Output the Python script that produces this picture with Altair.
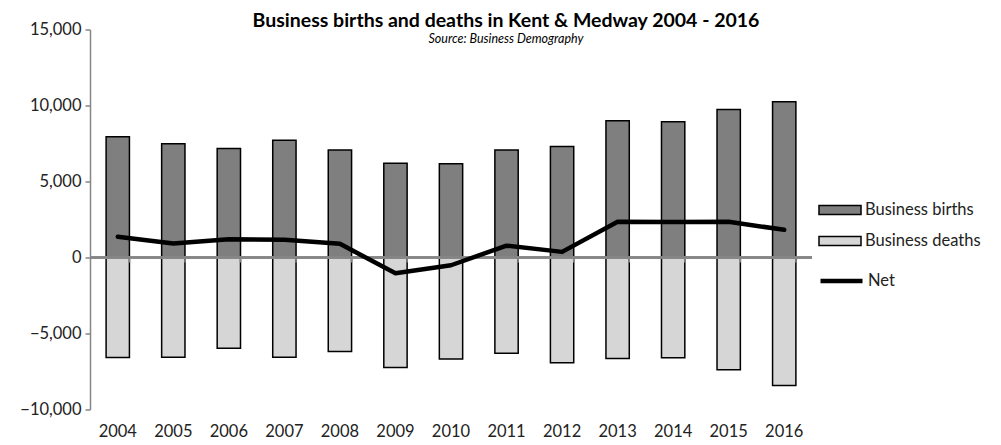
import altair as alt
import pandas as pd

years = ["2004", "2005", "2006", "2007", "2008", "2009", "2010",
         "2011", "2012", "2013", "2014", "2015", "2016"]
births = [7950, 7480, 7170, 7720, 7080, 6200, 6160, 7080, 7300, 8990, 8930, 9740, 10240]
deaths = [-6580, -6560, -5970, -6560, -6180, -7240, -6670, -6300, -6930, -6640, -6600, -7390, -8420]
net = [1370, 920, 1200, 1160, 900, -1040, -510, 780, 370, 2350, 2330, 2350, 1820]
y_ticks = [-10000, -5000, 0, 5000, 10000, 15000]

FONT = "Lato"
GRAY = "#868686"
TXT = "#222222"
FS = 16.5

bars_df = pd.DataFrame({
    "year": years * 2,
    "value": births + deaths,
    "series": ["Business births"] * len(years) + ["Business deaths"] * len(years),
})
net_df = pd.DataFrame({"year": years, "value": net, "series": ["Net"] * len(years)})
years_df = pd.DataFrame({"year": years})

x_scale = alt.Scale(domain=years, paddingInner=0.58, paddingOuter=0.29)
y_scale = alt.Scale(domain=[-10000, 15000], nice=False, zero=False)

x_axis = alt.Axis(title=None, domain=False, ticks=False, labelAngle=0,
                  labelPadding=14, labelFontSize=FS, labelFont=FONT, labelColor=TXT)
y_axis = alt.Axis(title=None, values=y_ticks, labelExpr="format(datum.value, ',')",
                  grid=False, domainColor=GRAY, domainWidth=1.5, tickColor=GRAY,
                  tickWidth=1.5, tickSize=5, labelPadding=4,
                  labelFontSize=FS, labelFont=FONT, labelColor=TXT)

bars = alt.Chart(bars_df).mark_bar(stroke="black", strokeWidth=1.5).encode(
    x=alt.X("year:N", scale=x_scale, sort=years, axis=x_axis),
    y=alt.Y("value:Q", scale=y_scale, stack=None, axis=y_axis),
    fill=alt.Fill("series:N",
                  scale=alt.Scale(domain=["Business births", "Business deaths"],
                                  range=["#7f7f7f", "#d6d6d6"]),
                  legend=alt.Legend(title=None, orient="none", legendX=728, legendY=158.5,
                                    symbolType="M-1,-0.22H1V0.22H-1Z", symbolSize=1764,
                                    symbolStrokeColor="black", symbolStrokeWidth=1.5,
                                    labelFontSize=FS, labelFont=FONT, labelColor=TXT,
                                    rowPadding=-3, labelOffset=3)),
)

zero_rule = alt.Chart(years_df).mark_rule(color=GRAY, strokeWidth=1.5).encode(
    y=alt.YDatum(0, scale=y_scale, axis=y_axis),
)

ticks = alt.Chart(years_df).mark_rule(color=GRAY, strokeWidth=1.5).encode(
    x=alt.X("year:N", scale=x_scale, sort=years, bandPosition=1, axis=x_axis),
    y=alt.YDatum(0, scale=y_scale, axis=y_axis),
    y2=alt.datum(-330),
)

line = alt.Chart(net_df).mark_line(strokeWidth=4.5, strokeCap="round",
                                   strokeJoin="round").encode(
    x=alt.X("year:N", scale=x_scale, sort=years, axis=x_axis),
    y=alt.Y("value:Q", scale=y_scale, axis=y_axis),
    stroke=alt.Stroke("series:N", scale=alt.Scale(domain=["Net"], range=["black"]),
                      legend=alt.Legend(title=None, orient="none", legendX=728, legendY=228,
                                        symbolType="stroke", symbolSize=1764,
                                        symbolStrokeWidth=4.5,
                                        labelFontSize=FS, labelFont=FONT,
                                        labelColor=TXT, labelOffset=3)),
)

chart = alt.layer(bars, zero_rule, ticks, line).properties(
    width=722,
    height=380,
    background="white",
    autosize=alt.AutoSizeParams(type="none"),
    padding={"left": 82, "top": 21.5, "right": 180, "bottom": 34},
    title=alt.Title(
        "Business births and deaths in Kent & Medway 2004 - 2016",
        subtitle="Source: Business Demography",
        font=FONT, fontSize=19.5, fontWeight="bold", color="black",
        subtitleFont=FONT, subtitleFontSize=12.5, subtitleFontStyle="italic",
        subtitleColor="black", subtitlePadding=2,
        anchor="middle", dx=55, offset=-25,
    ),
).configure_view(stroke=None)

chart.save("out.html", embed_options={"renderer": "svg", "actions": False})
